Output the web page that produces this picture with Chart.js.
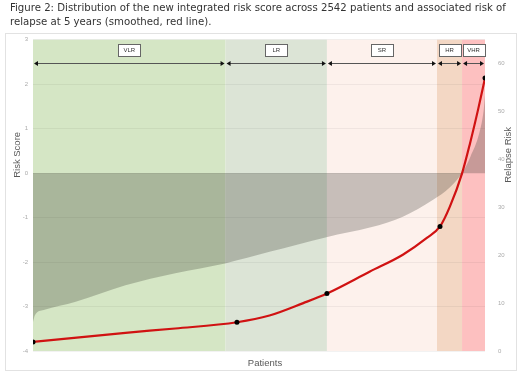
<!DOCTYPE html>
<html>
<head>
<meta charset="utf-8">
<script src="https://cdn.jsdelivr.net/npm/chart.js@4.4.1/dist/chart.umd.min.js"></script>
<style>
html, body { margin: 0; padding: 0; background: #fff; }
</style>
</head>
<body>
<canvas id="risk" width="520" height="374"></canvas>
<script>
var titleLines = [
    "Figure 2: Distribution of the new integrated risk score across 2542 patients and associated risk of",
    "relapse at 5 years (smoothed, red line)."
];

// risk groups along the patient axis
var bandLabels = ["VLR", "LR", "SR", "HR", "VHR"];
var bandEdges = [0, 1083, 1653, 2272, 2413, 2542];
var bandColors = ["#d5e6c5", "#dce4d6", "#fdf1ec", "#f3d7c4", "#fdc0c0"];

// sorted risk score (grey area)
var scorePatients = [0, 10, 60, 240, 520, 800, 1080, 1330, 1650, 1900, 2080, 2250, 2345, 2413, 2460, 2510, 2535, 2542];
var scoreValues = [-3.35, -3.2, -3.08, -2.89, -2.52, -2.25, -2.03, -1.77, -1.44, -1.22, -0.98, -0.6, -0.32, 0, 0.37, 0.9, 1.43, 1.75];

// smoothed relapse risk (red line)
var riskPatients = [0, 520, 800, 1147, 1330, 1520, 1653, 1895, 2080, 2215, 2289, 2345, 2413, 2458, 2503, 2542];
var riskValues = [1.9, 3.8, 4.7, 6.0, 7.4, 10.0, 12.0, 16.6, 20.1, 23.6, 26.0, 30.2, 37.1, 43.4, 50.4, 57];

var markerPatients = [0, 1147, 1653, 2289, 2542];
var markerRisk = [1.9, 6.0, 12.0, 26.0, 57];

var scoreTicks = [3, 2, 1, 0, -1, -2, -3, -4];
var riskTicks = [0, 10, 20, 30, 40, 50, 60];

var axisTitles = { x: "Patients", left: "Risk Score", right: "Relapse Risk" };

function pts(xs, ys) {
    return xs.map(function (x, i) { return { x: x, y: ys[i] }; });
}

var fontMain = "'Liberation Sans Narrow', 'DejaVu Sans Condensed', 'Liberation Sans', sans-serif";
var fontAxis = "'Liberation Sans', sans-serif";

var bandsPlugin = {
    id: 'bands',
    beforeDraw: function (chart) {
        var ctx = chart.ctx, a = chart.chartArea, xs = chart.scales.x;
        ctx.save();
        ctx.strokeStyle = '#e2e2e2';
        ctx.lineWidth = 1;
        ctx.strokeRect(5.5, 33.5, 511, 337);
        for (var i = 0; i < bandLabels.length; i++) {
            var x0 = xs.getPixelForValue(bandEdges[i]);
            var x1 = xs.getPixelForValue(bandEdges[i + 1]);
            ctx.fillStyle = bandColors[i];
            ctx.fillRect(x0, a.top, x1 - x0, a.bottom - a.top);
        }
        ctx.restore();
    },
    afterDatasetsDraw: function (chart) {
        var ctx = chart.ctx, a = chart.chartArea, xs = chart.scales.x;
        var ay = Math.round(a.top + 23) + 0.5;
        var by = a.top + 10;
        ctx.save();
        for (var i = 0; i < bandLabels.length; i++) {
            var x0 = xs.getPixelForValue(bandEdges[i]);
            var x1 = xs.getPixelForValue(bandEdges[i + 1]);
            // arrow
            ctx.strokeStyle = '#555';
            ctx.lineWidth = 1;
            ctx.beginPath();
            ctx.moveTo(x0 + 2, ay);
            ctx.lineTo(x1 - 2, ay);
            ctx.stroke();
            ctx.fillStyle = '#111';
            ctx.beginPath();
            ctx.moveTo(x0 + 1, ay);
            ctx.lineTo(x0 + 5, ay - 2.5);
            ctx.lineTo(x0 + 5, ay + 2.5);
            ctx.closePath();
            ctx.fill();
            ctx.beginPath();
            ctx.moveTo(x1 - 1, ay);
            ctx.lineTo(x1 - 5, ay - 2.5);
            ctx.lineTo(x1 - 5, ay + 2.5);
            ctx.closePath();
            ctx.fill();
            // label box
            var cx = (x0 + x1) / 2;
            ctx.fillStyle = '#fff';
            ctx.fillRect(Math.round(cx - 11) + 0.5, Math.round(by - 6) + 0.5, 22, 12);
            ctx.strokeStyle = '#666';
            ctx.strokeRect(Math.round(cx - 11) + 0.5, Math.round(by - 6) + 0.5, 22, 12);
            ctx.fillStyle = '#333';
            ctx.font = "6px " + fontAxis;
            ctx.textAlign = 'center';
            ctx.textBaseline = 'middle';
            ctx.fillText(bandLabels[i], cx, by + 0.5);
        }
        ctx.restore();
    },
    afterDraw: function (chart) {
        // axis titles (both vertical ones read bottom to top, sitting above centre)
        var ctx = chart.ctx, a = chart.chartArea;
        var midY = a.top + (a.bottom - a.top) * 0.37;
        ctx.save();
        ctx.fillStyle = '#595959';
        ctx.font = "9.5px " + fontAxis;
        ctx.textAlign = 'center';
        ctx.textBaseline = 'middle';
        ctx.fillText(axisTitles.x, (a.left + a.right) / 2 + 6, a.bottom + 12);
        ctx.translate(17, midY);
        ctx.rotate(-Math.PI / 2);
        ctx.fillText(axisTitles.left, 0, 0);
        ctx.restore();
        ctx.save();
        ctx.fillStyle = '#595959';
        ctx.font = "9.5px " + fontAxis;
        ctx.textAlign = 'center';
        ctx.textBaseline = 'middle';
        ctx.translate(a.right + 23, midY);
        ctx.rotate(-Math.PI / 2);
        ctx.fillText(axisTitles.right, 0, 0);
        ctx.restore();
    }
};

var chart = new Chart(document.getElementById('risk'), {
    data: {
        datasets: [
            {
                type: 'scatter',
                label: 'markers',
                data: pts(markerPatients, markerRisk),
                yAxisID: 'yRisk',
                pointRadius: 2.5,
                pointBackgroundColor: '#000',
                pointBorderWidth: 0,
                order: 0
            },
            {
                type: 'line',
                label: 'Relapse Risk',
                data: pts(riskPatients, riskValues),
                yAxisID: 'yRisk',
                borderColor: '#d01212',
                borderWidth: 2.2,
                pointRadius: 0,
                cubicInterpolationMode: 'monotone',
                fill: false,
                order: 1
            },
            {
                type: 'line',
                label: 'Risk Score',
                data: pts(scorePatients, scoreValues),
                yAxisID: 'yScore',
                borderWidth: 0,
                borderColor: 'rgba(0,0,0,0)',
                backgroundColor: 'rgba(40, 40, 30, 0.25)',
                pointRadius: 0,
                cubicInterpolationMode: 'monotone',
                fill: { value: 0 },
                order: 2
            }
        ]
    },
    options: {
        responsive: false,
        animation: false,
        devicePixelRatio: 1,
        layout: { padding: { left: 10, right: 3, top: 0, bottom: 8 } },
        plugins: {
            legend: { display: false },
            tooltip: { enabled: false },
            title: {
                display: true,
                text: titleLines,
                align: 'start',
                color: '#333',
                font: { family: fontMain, size: 11.3, weight: 'normal', lineHeight: 1.27 },
                padding: { top: 1, bottom: 10 }
            }
        },
        scales: {
            x: {
                type: 'linear',
                min: 0,
                max: 2542,
                grid: { display: false },
                border: { display: false },
                ticks: { display: false },
                title: { display: false },
                afterFit: function (s) { s.height = 15; }
            },
            yScore: {
                type: 'linear',
                position: 'left',
                min: -4,
                max: 3,
                afterBuildTicks: function (s) { s.ticks = scoreTicks.map(function (v) { return { value: v }; }); },
                ticks: { color: '#aaa', font: { family: fontAxis, size: 6 }, padding: 5 },
                grid: { color: 'rgba(0,0,0,0.05)', drawTicks: false },
                border: { display: false },
                title: { display: false },
                afterFit: function (s) { s.width = 23; }
            },
            yRisk: {
                type: 'linear',
                position: 'right',
                min: 0,
                max: 65,
                afterBuildTicks: function (s) { s.ticks = riskTicks.map(function (v) { return { value: v }; }); },
                ticks: { color: '#aaa', font: { family: fontAxis, size: 6 }, padding: 5 },
                grid: { display: false },
                border: { display: false },
                title: { display: false },
                afterFit: function (s) { s.width = 32; }
            }
        }
    },
    plugins: [bandsPlugin]
});
</script>
</body>
</html>
